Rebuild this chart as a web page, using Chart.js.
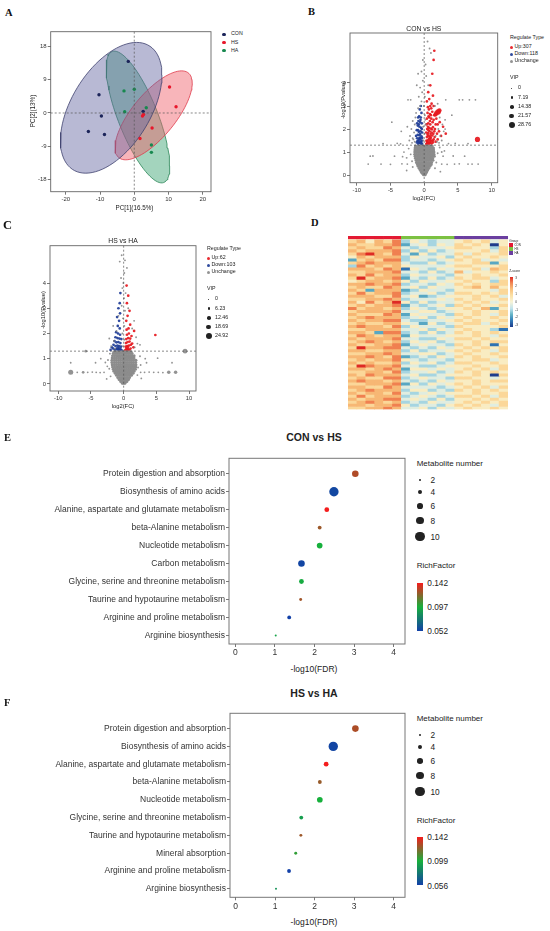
<!DOCTYPE html>
<html>
<head>
<meta charset="utf-8">
<script src="https://cdn.jsdelivr.net/npm/chart.js@4.4.1/dist/chart.umd.min.js"></script>
<style>
body { margin: 0; width: 550px; height: 931px; position: relative; background: #fff; overflow: hidden;
       font-family: "Liberation Sans", Arial, sans-serif; }
canvas { position: absolute; }
.t { position: absolute; white-space: nowrap; color: #222; line-height: 1; }
.lab { font-family: "Liberation Serif", "Times New Roman", serif; font-weight: bold; color: #111; }
.dot { position: absolute; border-radius: 50%; }
.box { position: absolute; }
</style>
</head>
<body>
<script>
// ---------- A: PCA ----------
var conPC = [[-1.75, 13.9], [-10.3, 4.9], [-9.6, -0.8], [-13.4, -5.0], [-8.7, -5.8], [2.6, 0.45]];
var hsPC = [[10.3, 7.0], [12.2, 1.7], [2.4, -0.8], [5.2, -4.05], [1.66, -6.85], [2.7, -0.4]];
var haPC = [[-3.0, 5.95], [0, 6.4], [-2.8, 0.35], [3.5, 1.4], [5.0, -8.6], [5.0, -10.6]];
// confidence ellipses: centre x, centre y, sxx, sxy, syy
var conEllipse = [-6.74, 1.40, 219.6, 131.0, 310.2];
var hsEllipse = [5.65, -0.63, 127.1, 97.8, 143.6];
var haEllipse = [1.08, -1.08, 86.1, -122.6, 315.0];
var pcaXTicks = [-20, -10, 0, 10, 20];
var pcaYTicks = [-18, -9, 0, 9, 18];

// ---------- B: volcano CON vs HS ----------
var grayCoreB = [
  [0.02, [-0.1, 0.05, 0.15]],
  [0.08, [-0.3, -0.15, 0, 0.12, 0.25]],
  [0.15, [-0.45, -0.3, -0.1, 0.05, 0.2, 0.38]],
  [0.22, [-0.6, -0.4, -0.2, 0, 0.18, 0.35, 0.52]],
  [0.3, [-0.75, -0.55, -0.35, -0.12, 0.08, 0.28, 0.46, 0.68]],
  [0.38, [-0.9, -0.65, -0.42, -0.2, 0, 0.22, 0.43, 0.62, 0.85]],
  [0.46, [-1.0, -0.78, -0.5, -0.28, -0.05, 0.15, 0.38, 0.6, 0.82, 1.05]],
  [0.55, [-1.15, -0.9, -0.62, -0.36, -0.1, 0.12, 0.35, 0.58, 0.85, 1.1]],
  [0.64, [-1.2, -0.95, -0.7, -0.45, -0.2, 0.05, 0.3, 0.55, 0.8, 1.05, 1.3]],
  [0.73, [-1.3, -1.0, -0.75, -0.5, -0.25, 0, 0.25, 0.5, 0.75, 1.0, 1.25]],
  [0.82, [-1.35, -1.05, -0.8, -0.52, -0.28, -0.02, 0.22, 0.48, 0.72, 0.98, 1.25, 1.5]],
  [0.91, [-1.4, -1.1, -0.82, -0.55, -0.3, -0.05, 0.2, 0.45, 0.7, 0.95, 1.2, 1.45]],
  [1.0, [-1.4, -1.12, -0.85, -0.58, -0.32, -0.08, 0.18, 0.42, 0.68, 0.92, 1.18, 1.45]],
  [1.09, [-1.38, -1.1, -0.85, -0.6, -0.35, -0.1, 0.15, 0.4, 0.65, 0.9, 1.15, 1.4]],
  [1.18, [-1.35, -1.08, -0.82, -0.58, -0.32, -0.08, 0.15, 0.4, 0.65, 0.9, 1.15, 1.38]],
  [1.26, [-1.3, -1.05, -0.8, -0.55, -0.3, -0.05, 0.2, 0.42, 0.68, 0.95, 1.2]]
];
var grayHighB = [[-1.8, 1.4], [-1.6, 1.55], [-2.1, 1.7], [-1.5, 1.85], [-1.9, 2.0], [-1.4, 2.2], [-1.7, 2.35], [-1.3, 2.5],
  [-1.2, 2.7], [-0.9, 2.9], [-0.6, 3.0], [-0.4, 3.2], [-0.8, 3.4], [-0.3, 3.6], [-0.6, 3.8], [-1.1, 3.9], [-0.2, 4.1],
  [-0.4, 4.5], [-0.9, 4.4], [2.2, 1.4], [2.6, 1.5], [2.4, 1.7], [2.9, 1.9], [2.1, 2.0], [2.7, 2.2], [3.1, 2.4], [2.3, 2.5],
  [1.6, 3.0], [2.0, 3.1], [0.2, 2.2], [0.1, 2.6], [-0.05, 3.0], [0.1, 3.4], [0.6, 3.9], [0.3, 4.3], [0.2, 4.8], [0.8, 5.5],
  [0.5, 5.8], [1.0, 5.3], [-0.2, 5.0], [-1.4, 1.45], [-1.7, 1.6], [1.9, 1.45], [1.7, 1.7], [-0.1, 1.5], [0.05, 1.8],
  [-0.15, 2.1], [0.15, 2.4], [-2.5, 2.1], [-2.2, 1.5], [-1.8, 0.6], [-2.0, 0.9], [-2.3, 1.15], [1.8, 0.55], [2.0, 0.95],
  [2.3, 1.2], [-1.7, 0.35], [1.6, 0.3], [-2.6, 0.75], [2.6, 1.0]];
var grayOutB = [[-8.3, 0.48], [-6.4, 0.48], [-5.0, 0.47], [-3.3, 0.49], [-2.5, 0.48], [2.6, 0.48], [3.4, 0.47], [4.5, 0.48],
  [5.2, 0.49], [6.5, 0.48], [7.1, 0.48], [8.0, 0.48], [-8.0, 0.82], [-7.6, 0.83], [-4.4, 0.82], [-3.2, 0.8], [2.8, 0.82],
  [4.3, 0.83], [6.0, 0.82], [-2.4, 3.27], [-2.0, 3.27], [3.2, 3.27], [5.2, 3.27], [5.7, 3.27], [6.7, 3.27], [7.6, 3.27],
  [-6.1, 1.37], [-4.0, 1.38], [-3.5, 1.36], [3.6, 1.37], [4.6, 1.38], [6.5, 1.37], [-3.0, 1.0], [3.0, 1.05], [-3.4, 1.9],
  [3.1, 2.0], [-2.6, 0.2], [2.4, 0.15], [-4.8, 2.3], [4.1, 2.6]];
var redB = [[0.3, 1.35], [0.5, 1.38], [0.7, 1.36], [0.9, 1.4], [1.1, 1.37], [1.3, 1.42], [0.35, 1.5], [0.6, 1.52], [0.85, 1.55],
  [1.05, 1.5], [1.4, 1.55], [1.7, 1.45], [0.4, 1.65], [0.65, 1.7], [0.9, 1.68], [1.2, 1.72], [1.55, 1.65], [2.0, 1.55],
  [0.3, 1.85], [0.55, 1.82], [0.8, 1.9], [1.1, 1.85], [1.5, 1.9], [1.9, 1.8], [0.45, 2.0], [0.7, 2.05], [1.0, 2.02],
  [1.3, 2.08], [0.35, 2.2], [0.6, 2.25], [0.9, 2.2], [1.25, 2.3], [1.7, 2.2], [0.4, 2.45], [0.75, 2.5], [1.05, 2.45],
  [0.5, 2.7], [0.85, 2.65], [1.2, 2.75], [0.55, 2.95], [0.9, 3.0], [0.4, 3.2], [0.75, 3.3], [1.1, 3.1], [1.3, 3.45],
  [0.6, 3.6], [0.9, 3.9], [1.2, 4.4], [1.4, 5.0], [1.5, 5.4], [2.2, 1.9], [2.5, 1.7], [2.8, 2.1], [3.2, 1.8],
  [0.4, 1.45], [0.75, 1.6], [1.0, 1.62], [1.25, 1.5], [0.5, 1.75], [0.95, 1.78], [1.35, 1.8], [0.65, 1.95], [1.15, 1.98],
  [1.6, 2.0], [0.55, 2.1], [0.85, 2.35], [1.4, 2.4], [0.65, 2.55], [1.0, 2.6], [1.5, 2.6], [0.7, 2.85], [1.05, 2.9],
  [1.4, 3.0], [2.3, 2.3], [1.8, 2.45], [2.0, 2.2]];
var blueB = [[-0.3, 1.35], [-0.5, 1.37], [-0.7, 1.4], [-0.9, 1.36], [-1.1, 1.42], [-0.35, 1.5], [-0.6, 1.55], [-0.85, 1.52],
  [-1.05, 1.6], [-0.4, 1.68], [-0.7, 1.72], [-0.95, 1.75], [-0.3, 1.85], [-0.55, 1.9], [-0.8, 1.88], [-1.1, 1.95],
  [-0.45, 2.05], [-0.7, 2.1], [-0.95, 2.15], [-0.35, 2.25], [-0.6, 2.3], [-0.85, 2.35], [-0.5, 2.5], [-0.75, 2.55],
  [-0.4, 2.7], [-0.65, 2.85], [-0.5, 3.0], [-0.45, 1.45], [-0.75, 1.6], [-1.0, 1.48], [-0.6, 1.78], [-0.9, 1.95],
  [-0.35, 2.0], [-1.05, 2.25], [-0.8, 2.2], [-0.55, 2.4], [-0.9, 2.5], [-1.2, 1.7], [-0.3, 1.62]];
// [log2FC, -log10 P, VIP]
var bigRedB = [[1.8, 2.68, 22], [2.05, 2.74, 26], [2.25, 2.8, 20], [1.65, 2.62, 16], [7.9, 1.55, 24], [0.55, 1.4, 14], [0.85, 1.45, 14]];
var bigBlueB = [[-0.5, 1.4, 14], [-0.8, 1.45, 12], [-0.6, 1.6, 10]];
var vipB = [0, 7.19, 14.38, 21.57, 28.76];

// ---------- C: volcano HS vs HA ----------
var grayCoreC = [
  [0.03, [-0.2, 0, 0.2]],
  [0.1, [-0.45, -0.2, 0.05, 0.3, 0.5]],
  [0.18, [-0.7, -0.45, -0.2, 0.05, 0.3, 0.55, 0.75]],
  [0.26, [-0.9, -0.6, -0.35, -0.1, 0.15, 0.4, 0.65, 0.9]],
  [0.34, [-1.1, -0.8, -0.5, -0.25, 0, 0.25, 0.5, 0.75, 1.0, 1.2]],
  [0.42, [-1.3, -1.0, -0.7, -0.42, -0.15, 0.1, 0.38, 0.65, 0.92, 1.2, 1.45]],
  [0.5, [-1.5, -1.2, -0.9, -0.6, -0.32, -0.05, 0.22, 0.5, 0.78, 1.05, 1.32, 1.6]],
  [0.58, [-1.6, -1.3, -1.0, -0.7, -0.4, -0.12, 0.15, 0.42, 0.7, 0.98, 1.25, 1.55, 1.8]],
  [0.67, [-1.7, -1.38, -1.05, -0.75, -0.45, -0.15, 0.12, 0.4, 0.68, 0.95, 1.25, 1.55, 1.85]],
  [0.76, [-1.75, -1.42, -1.1, -0.78, -0.48, -0.18, 0.1, 0.38, 0.66, 0.95, 1.25, 1.55, 1.88]],
  [0.85, [-1.8, -1.45, -1.12, -0.8, -0.5, -0.2, 0.08, 0.36, 0.64, 0.92, 1.22, 1.52, 1.85]],
  [0.94, [-1.8, -1.45, -1.12, -0.8, -0.5, -0.2, 0.1, 0.38, 0.66, 0.95, 1.25, 1.55, 1.88]],
  [1.03, [-1.75, -1.42, -1.1, -0.78, -0.48, -0.18, 0.12, 0.4, 0.68, 0.98, 1.28, 1.58]],
  [1.12, [-1.7, -1.38, -1.05, -0.75, -0.45, -0.15, 0.14, 0.42, 0.7, 1.0, 1.3, 1.6]],
  [1.21, [-1.6, -1.3, -1.0, -0.7, -0.4, -0.1, 0.18, 0.45, 0.72, 1.0, 1.3]],
  [1.28, [-1.5, -1.2, -0.9, -0.6, -0.3, 0, 0.28, 0.55, 0.85, 1.15]]
];
var grayHighC = [[-1.3, 1.4], [-1.9, 1.5], [-1.5, 1.7], [-2.2, 1.8], [1.7, 1.45], [2.1, 1.6], [1.9, 1.85], [2.5, 1.55],
  [-1.1, 2.1], [-0.2, 2.0], [0.1, 2.3], [-0.1, 2.6], [0.2, 2.9], [-0.3, 3.1], [0.05, 3.4], [-0.2, 3.8], [0.3, 3.6],
  [-0.4, 4.2], [0.1, 4.4], [-0.6, 4.85], [0.2, 4.9], [-0.05, 4.0], [0.7, 3.0], [-0.8, 2.7], [1.3, 2.2], [1.6, 2.5],
  [-1.6, 2.3], [0.5, 4.6], [-0.3, 5.1], [-0.1, 1.5], [0.1, 1.75], [-2.2, 0.6], [-2.4, 0.95], [2.2, 0.65], [2.5, 1.1],
  [-2.1, 1.2], [2.1, 0.35], [-2.0, 0.3]];
var grayOutC = [[-7.1, 0.46], [-5.5, 0.46], [-4.8, 0.47], [-4.2, 0.46], [-3.6, 0.45], [-3.0, 0.46], [2.6, 0.46], [3.2, 0.46],
  [3.9, 0.47], [4.6, 0.46], [5.3, 0.46], [6.0, 0.45], [-8.1, 0.84], [-4.3, 0.84], [-2.8, 0.85], [3.5, 0.84], [7.4, 0.84],
  [-3.5, 1.0], [3.3, 1.0], [5.2, 1.02], [-2.6, 0.2], [2.7, 0.22], [-2.5, 0.7], [2.6, 0.75]];
var bigGrayC = [[-8.1, 0.46, 20], [9.4, 1.3, 18], [6.9, 0.46, 12], [7.95, 0.46, 12], [-5.8, 1.3, 8], [-6.2, 0.46, 8]];
var redC = [[0.25, 1.33], [0.45, 1.35], [0.65, 1.38], [0.85, 1.34], [1.05, 1.4], [0.3, 1.48], [0.55, 1.5], [0.8, 1.52],
  [1.1, 1.55], [0.35, 1.62], [0.6, 1.66], [0.9, 1.68], [1.3, 1.6], [0.4, 1.78], [0.7, 1.82], [1.0, 1.8], [0.5, 1.95],
  [0.8, 2.0], [1.2, 1.9], [0.45, 2.15], [0.75, 2.2], [1.0, 2.35], [0.4, 2.5], [0.6, 2.7], [0.9, 2.9], [0.5, 3.2],
  [0.45, 3.9], [0.7, 3.5], [1.5, 1.45], [4.85, 1.94], [1.6, 2.1]];
var blueC = [[-0.3, 1.33], [-0.55, 1.35], [-0.8, 1.34], [-1.05, 1.38], [-1.3, 1.35], [-1.6, 1.4], [-0.4, 1.48], [-0.7, 1.5],
  [-0.95, 1.52], [-1.25, 1.5], [-1.55, 1.55], [-0.5, 1.62], [-0.8, 1.66], [-1.1, 1.65], [-1.4, 1.7], [-0.35, 1.78],
  [-0.65, 1.8], [-0.95, 1.82], [-1.25, 1.85], [-0.55, 1.95], [-0.85, 2.0], [-1.15, 2.05], [-0.6, 2.2], [-0.9, 2.3],
  [-0.7, 2.5], [-1.0, 2.65], [-0.55, 2.8], [-0.8, 3.0], [-0.6, 3.2], [-0.5, 3.6], [-1.8, 1.45], [-2.0, 1.35]];
var bigRedC = [[0.45, 1.35, 16], [0.55, 1.45, 12]];
var bigBlueC = [[-0.6, 1.38, 16], [-0.9, 1.42, 12]];
var vipC = [0, 6.23, 12.46, 18.69, 24.92];
var volXTicks = [-10, -5, 0, 5, 10];
var volYTicks = [0, 1, 2, 3, 4];

// ---------- D: heatmap (digit d -> z = (d - 4.5) / 1.5) ----------
var samples = ['CON1', 'CON2', 'CON3', 'CON4', 'CON5', 'CON6', 'HS1', 'HS2', 'HS3', 'HS4', 'HS5', 'HS6',
  'HA1', 'HA2', 'HA3', 'HA4', 'HA5', 'HA6'];
var sampleGroup = [0, 0, 0, 0, 0, 0, 1, 1, 1, 1, 1, 1, 2, 2, 2, 2, 2, 2];
var heatRows = [
  '675768354344565645', '766778245354656505', '676687434445665536', '767778353534555646',
  '689768425344646556', '576777354453565565', '267688344345656454', '678777433534556625',
  '386767544445665556', '777687154354556476', '667778443534745565', '768677354443556556',
  '696778243534656645', '567767535445565536', '778778344354656566', '676687453544567575',
  '762777235443555546', '686778344534665656', '777668452345556564', '667787344454656556',
  '758679535344565645', '676778243453656556', '867767354345565725', '677778445534556556',
  '766687254443656546', '678777345354565565', '767788433445656556', '676677542534566465',
  '787768354443655556', '667777445354565531', '776288343534656565', '687677254445556546',
  '767778443354665655', '678767354534556566', '766778245443656515', '697788434354565656',
  '776677353445656546', '667787445534565565', '778768234354656556', '676778543443556645',
  '767667354534665565', '698778443345556556', '776787255454565646', '667768344534656565',
  '768777453345556506', '676688345443665545', '787767434354556566', '667778253545656555',
  '776687444434565646', '678777355343656565', '767768434545556556', '686777345434665646',
  '767788454353556565', '678767343544565656', '776778534435656546', '667787445354565565'
];
var zTicks = [3, 2, 1, 0, -1, -2, -3];

// ---------- E / F: KEGG enrichment ----------
var pathE = ['Protein digestion and absorption', 'Biosynthesis of amino acids', 'Alanine, aspartate and glutamate metabolism',
  'beta-Alanine metabolism', 'Nucleotide metabolism', 'Carbon metabolism', 'Glycine, serine and threonine metabolism',
  'Taurine and hypotaurine metabolism', 'Arginine and proline metabolism', 'Arginine biosynthesis'];
var fdrE = [3.03, 2.49, 2.31, 2.13, 2.13, 1.67, 1.67, 1.65, 1.36, 1.02];
var numE = [7, 10, 5, 4, 6, 7, 5, 3, 4, 2];
var richE = [0.128, 0.055, 0.142, 0.124, 0.097, 0.054, 0.095, 0.125, 0.052, 0.092];
var richRangeE = [0.052, 0.097, 0.142];

var pathF = ['Protein digestion and absorption', 'Biosynthesis of amino acids', 'Alanine, aspartate and glutamate metabolism',
  'beta-Alanine metabolism', 'Nucleotide metabolism', 'Glycine, serine and threonine metabolism',
  'Taurine and hypotaurine metabolism', 'Mineral absorption', 'Arginine and proline metabolism', 'Arginine biosynthesis'];
var fdrF = [3.03, 2.47, 2.29, 2.13, 2.13, 1.66, 1.65, 1.52, 1.35, 1.02];
var numF = [7, 10, 5, 4, 6, 4, 3, 3, 4, 2];
var richF = [0.128, 0.058, 0.142, 0.124, 0.099, 0.092, 0.125, 0.104, 0.056, 0.088];
var richRangeF = [0.056, 0.099, 0.142];
var metaNums = [2, 4, 6, 8, 10];
var fdrTicks = [0, 1, 2, 3, 4];

// ---------------------------------------------------------------
var FONT = "'Liberation Sans', Arial, sans-serif";
Chart.defaults.font.family = FONT;
Chart.defaults.animation = false;
Chart.defaults.plugins.legend.display = false;
Chart.defaults.plugins.tooltip.enabled = false;

var GRAY = 'rgba(128,128,128,0.85)', CORE = '#8c8c8c', RED = 'rgba(230,24,30,0.92)', BLUE = 'rgba(30,60,150,0.92)';

function txt(s, x, y, size, opt) {
    opt = opt || {};
    var d = document.createElement('div');
    d.className = 't' + (opt.cls ? ' ' + opt.cls : '');
    d.textContent = s;
    d.style.left = x + 'px';
    d.style.top = y + 'px';
    d.style.fontSize = size + 'px';
    if (opt.bold) d.style.fontWeight = 'bold';
    var ax = opt.align === 'c' ? '-50%' : (opt.align === 'r' ? '-100%' : '0');
    var tr = 'translate(' + ax + ',-50%)';
    if (opt.rot) tr += ' rotate(' + opt.rot + 'deg)';
    d.style.transform = tr;
    document.body.appendChild(d);
}

function dot(x, y, r, color) {
    var d = document.createElement('div');
    d.className = 'dot';
    d.style.left = (x - r) + 'px';
    d.style.top = (y - r) + 'px';
    d.style.width = d.style.height = (2 * r) + 'px';
    d.style.background = color;
    document.body.appendChild(d);
}

function rect(x, y, w, h, bg) {
    var d = document.createElement('div');
    d.className = 'box';
    d.style.left = x + 'px';
    d.style.top = y + 'px';
    d.style.width = w + 'px';
    d.style.height = h + 'px';
    d.style.background = bg;
    document.body.appendChild(d);
}

var framePlugin = {
    id: 'frame',
    afterDraw: function (chart, args, o) {
        var a = chart.chartArea, ctx = chart.ctx;
        ctx.save();
        ctx.strokeStyle = o.color || '#666';
        ctx.lineWidth = o.width || 1;
        ctx.strokeRect(a.left, a.top, a.right - a.left, a.bottom - a.top);
        ctx.restore();
    }
};

var refPlugin = {
    id: 'refs',
    afterDatasetsDraw: function (chart, args, o) {
        var ctx = chart.ctx, a = chart.chartArea, sx = chart.scales.x, sy = chart.scales.y;
        ctx.save();
        ctx.setLineDash([2, 2]);
        ctx.strokeStyle = '#555';
        ctx.lineWidth = 0.7;
        (o.x || []).forEach(function (v) {
            var p = sx.getPixelForValue(v);
            ctx.beginPath(); ctx.moveTo(p, a.top); ctx.lineTo(p, a.bottom); ctx.stroke();
        });
        (o.y || []).forEach(function (v) {
            var p = sy.getPixelForValue(v);
            ctx.beginPath(); ctx.moveTo(a.left, p); ctx.lineTo(a.right, p); ctx.stroke();
        });
        ctx.restore();
    }
};

function linAxis(min, max, ticks, size, fit, isX, cb) {
    return {
        type: 'linear', min: min, max: max,
        afterBuildTicks: function (s) { s.ticks = ticks.map(function (v) { return { value: v }; }); },
        afterFit: function (s) { if (isX) s.height = fit; else s.width = fit; },
        grid: { drawOnChartArea: false, drawTicks: true, tickLength: 3, color: '#555', lineWidth: 0.8 },
        border: { display: false },
        ticks: { font: { size: size }, color: '#333', padding: 1, maxRotation: 0, autoSkip: false,
                 callback: cb || function (v) { return v; } }
    };
}

function makeChart(r, box, config) {
    var c = document.createElement('canvas');
    c.width = r.w; c.height = r.h;
    c.style.left = r.x + 'px'; c.style.top = r.y + 'px';
    c.style.width = r.w + 'px'; c.style.height = r.h + 'px';
    document.body.appendChild(c);
    config.options.responsive = false;
    config.options.layout = { padding: { top: box.t - r.y, right: r.x + r.w - box.r,
        left: config.noAxes ? box.l - r.x : 0, bottom: config.noAxes ? r.y + r.h - box.b : 0 } };
    return new Chart(c.getContext('2d'), config);
}

function pts(arr) { return arr.map(function (p) { return { x: p[0], y: p[1] }; }); }
function rows(arr) {
    var out = [];
    arr.forEach(function (row) { row[1].forEach(function (x) { out.push({ x: x, y: row[0] }); }); });
    return out;
}
function ellipse(e) {
    var l11 = Math.sqrt(e[2]), l21 = e[3] / l11, l22 = Math.sqrt(e[4] - l21 * l21), out = [];
    for (var i = 0; i <= 90; i++) {
        var t = 2 * Math.PI * i / 90;
        out.push({ x: e[0] + l11 * Math.cos(t), y: e[1] + l21 * Math.cos(t) + l22 * Math.sin(t) });
    }
    return out;
}

// ---------- A ----------
(function () {
    var r = { x: 20, y: 25, w: 200, h: 180 }, box = { l: 50.7, t: 31.7, r: 211, b: 191.7 };
    function ell(e, fill, line) {
        return { type: 'line', data: ellipse(e), backgroundColor: fill, borderColor: line, borderWidth: 0.8,
                 pointRadius: 0, fill: 'shape', tension: 0, order: 1 };
    }
    function grp(d, c) {
        return { type: 'scatter', data: pts(d), pointRadius: 1.7, pointBackgroundColor: c, pointBorderWidth: 0, order: 0 };
    }
    makeChart(r, box, {
        type: 'scatter',
        data: { datasets: [
            grp(conPC, '#1b2459'), grp(hsPC, '#e8172b'), grp(haPC, '#17884f'),
            ell(conEllipse, 'rgba(98,100,160,0.45)', '#3f416f'),
            ell(hsEllipse, 'rgba(240,90,102,0.45)', '#de3a4a'),
            ell(haEllipse, 'rgba(52,160,108,0.45)', '#2b8658')
        ] },
        options: {
            scales: {
                x: linAxis(-24.4, 22.4, pcaXTicks, 6, r.y + r.h - box.b, true),
                y: linAxis(-21.2, 21.9, pcaYTicks, 6, box.l - r.x, false)
            },
            plugins: { refs: { x: [0], y: [0] }, frame: { color: '#666', width: 0.9 } }
        },
        plugins: [refPlugin, framePlugin]
    });
    txt('A', 5, 13, 10.5, { cls: 'lab' });
    [['CON', '#1b2459'], ['HS', '#e8172b'], ['HA', '#17884f']].forEach(function (g, i) {
        dot(224, 34.3 + i * 8.2, 1.8, g[1]);
        txt(g[0], 231, 34.3 + i * 8.2, 5.3);
    });
    txt('PC[1](16.5%)', 134.5, 208, 6.3, { align: 'c' });
    txt('PC[2](13%)', 32.5, 111, 6.3, { align: 'c', rot: -90 });
})();

// ---------- volcano ----------
function volcano(r, box, d, range, title, legend) {
    var vipMax = legend.vip[legend.vip.length - 1];
    function vr(v) { return 0.6 + v / vipMax * 2.4; }
    function sc(data, color, rad) {
        return { data: data, pointRadius: rad, pointBackgroundColor: color, pointBorderWidth: 0 };
    }
    function big(arr, color) {
        return { data: pts(arr), pointRadius: arr.map(function (p) { return vr(p[2]); }),
                 pointBackgroundColor: color, pointBorderWidth: 0 };
    }
    var sets = [sc(rows(d.core), CORE, 1.5), sc(pts(d.high), GRAY, 0.95), sc(pts(d.out), GRAY, 0.9)];
    if (d.bigGray) sets.push(big(d.bigGray, GRAY));
    sets.push(sc(pts(d.red), RED, 1.35), sc(pts(d.blue), BLUE, 1.35), big(d.bigRed, RED), big(d.bigBlue, BLUE));
    makeChart(r, box, {
        type: 'scatter',
        data: { datasets: sets },
        options: {
            scales: {
                x: linAxis(range[0], range[1], volXTicks, 5.8, r.y + r.h - box.b, true),
                y: linAxis(range[2], range[3], volYTicks, 5.8, box.l - r.x, false)
            },
            plugins: { refs: { x: [0], y: [1.3] }, frame: { color: '#666', width: 0.9 } }
        },
        plugins: [refPlugin, framePlugin]
    });
    var mid = (box.l + box.r) / 2;
    txt(title, mid, box.t - 4.5, 6.8, { align: 'c' });
    txt('log2(FC)', mid, box.b + 16, 5.8, { align: 'c' });
    txt('-log10(Pvalue)', box.l - 6, (box.t + box.b) / 2 - 8, 5.8, { align: 'c', rot: -90 });
    var L = legend;
    txt('Regulate Type', L.x, L.y, 5.3);
    [[L.up, RED], [L.down, BLUE], ['Unchange', GRAY]].forEach(function (it, i) {
        dot(L.x + 1.6, L.y + 9.5 + i * 7.1, 1.6, it[1]);
        txt(it[0], L.x + 4.5, L.y + 9.5 + i * 7.1, 5.3);
    });
    txt('VIP', L.x, L.y + 40, 5.3);
    L.vip.forEach(function (v, i) {
        dot(L.x + 1.8, L.y + 50.5 + i * 9.3, vr(v), '#222');
        txt(String(v), L.x + 8, L.y + 50.5 + i * 9.3, 5.3);
    });
}

volcano({ x: 325, y: 25, w: 180, h: 170 }, { l: 350, t: 33, r: 497.7, b: 182.7 },
    { core: grayCoreB, high: grayHighB, out: grayOutB, red: redB, blue: blueB, bigRed: bigRedB, bigBlue: bigBlueB },
    [-11, 10.9, -0.33, 6.17], 'CON vs HS', { x: 510, y: 37.7, up: 'Up:307', down: 'Down:118', vip: vipB });
txt('B', 308, 12, 10.5, { cls: 'lab' });

volcano({ x: 25, y: 238, w: 180, h: 165 }, { l: 50, t: 245.7, r: 196, b: 391 },
    { core: grayCoreC, high: grayHighC, out: grayOutC, bigGray: bigGrayC, red: redC, blue: blueC, bigRed: bigRedC, bigBlue: bigBlueC },
    [-11.27, 11.07, -0.28, 5.48], 'HS vs HA', { x: 207, y: 248.7, up: 'Up:62', down: 'Down:103', vip: vipC });
txt('C', 3, 224.5, 12.5, { cls: 'lab' });

// ---------- D ----------
var zStops = [[-3, [30, 60, 140]], [-2.2, [50, 125, 185]], [-1.5, [100, 180, 198]], [-0.8, [192, 226, 236]],
    [0, [247, 244, 216]], [0.8, [252, 224, 164]], [1.6, [248, 188, 120]], [2.3, [241, 132, 82]], [3, [222, 42, 36]]];
function zColor(z) {
    for (var i = 1; i < zStops.length; i++) {
        if (z <= zStops[i][0]) {
            var a = zStops[i - 1], b = zStops[i], f = (z - a[0]) / (b[0] - a[0]);
            return 'rgb(' + a[1].map(function (c, k) { return Math.round(c + (b[1][k] - c) * f); }).join(',') + ')';
        }
    }
    return 'rgb(' + zStops[zStops.length - 1][1].join(',') + ')';
}
(function () {
    var r = { x: 340, y: 228, w: 175, h: 185 }, box = { l: 348, t: 236, r: 508, b: 409.5 };
    var N = heatRows.length, groupColors = ['#e31a33', '#7cc142', '#6b3fa0'];
    var sets = heatRows.map(function (row, i) {
        return {
            data: samples.map(function () { return [N - 1 - i, N - i]; }),
            backgroundColor: samples.map(function (s, j) { return zColor((Number(row[j]) - 4.5) / 1.5); }),
            borderWidth: 0, grouped: false, barPercentage: 1, categoryPercentage: 1
        };
    });
    sets.push({
        data: samples.map(function () { return [N + 0.3, N + 1.3]; }),
        backgroundColor: sampleGroup.map(function (g) { return groupColors[g]; }),
        borderWidth: 0, grouped: false, barPercentage: 1, categoryPercentage: 1
    });
    makeChart(r, box, {
        type: 'bar',
        noAxes: true,
        data: { labels: samples, datasets: sets },
        options: { scales: { x: { display: false }, y: { display: false, min: 0, max: N + 1.3 } } }
    });
    txt('D', 311, 223, 10.5, { cls: 'lab' });
    txt('Group', 509.3, 241.7, 3.2);
    ['CON', 'HS', 'HA'].forEach(function (g, i) {
        rect(509.3, 243.3 + i * 4, 4, 3.9, groupColors[i]);
        txt(g, 514.5, 245.3 + i * 4, 2.8);
    });
    txt('Z-score', 509.3, 272.3, 3.2);
    var grad = zStops.slice().reverse().map(function (s) {
        return 'rgb(' + s[1].join(',') + ') ' + ((3 - s[0]) / 6 * 100).toFixed(1) + '%';
    }).join(',');
    rect(510, 276.7, 3.4, 50.6, 'linear-gradient(to bottom,' + grad + ')');
    zTicks.forEach(function (z, i) { txt(String(z), 515.3, 277.7 + i * 7.95, 3); });
})();

// ---------- E / F ----------
var richColors = [[18, 64, 168], [23, 176, 60], [244, 29, 29]];
function richColor(v, rg) {
    var f = (v - rg[0]) / (rg[2] - rg[0]);
    f = Math.max(0, Math.min(1, f));
    var a, b, g;
    if (f < 0.5) { a = richColors[0]; b = richColors[1]; g = f / 0.5; }
    else { a = richColors[1]; b = richColors[2]; g = (f - 0.5) / 0.5; }
    return 'rgb(' + a.map(function (c, k) { return Math.round(c + (b[k] - c) * g); }).join(',') + ')';
}
function numRadius(n) { return 1 + (n - 2) * 0.46; }

function enrich(r, box, path, fdr, num, rich, rg, xRange, title, leg) {
    makeChart(r, box, {
        type: 'scatter',
        data: { datasets: [{
            data: fdr.map(function (v, i) { return { x: v, y: 10 - i }; }),
            pointRadius: num.map(numRadius),
            pointBackgroundColor: rich.map(function (v) { return richColor(v, rg); }),
            pointBorderWidth: 0
        }] },
        options: {
            scales: {
                x: linAxis(xRange[0], xRange[1], fdrTicks, 8.5, r.y + r.h - box.b, true),
                y: linAxis(0.52, 10.86, [1, 2, 3, 4, 5, 6, 7, 8, 9, 10], 8.5, box.l - r.x, false,
                    function (v) { return path[10 - v]; })
            },
            plugins: { frame: { color: '#777', width: 1 } }
        },
        plugins: [framePlugin]
    });
    txt(title, 314, leg.title, 10.5, { align: 'c', bold: true });
    txt('-log10(FDR)', 314, box.b + 24.8, 8.5, { align: 'c' });
    txt('Metabolite number', 416.7, leg.num, 8);
    metaNums.forEach(function (n, i) {
        dot(420, leg.dots[i], numRadius(n), '#222');
        txt(String(n), 430.5, leg.dots[i], 8.3);
    });
    txt('RichFactor', 416.7, leg.rich, 8);
    rect(417.3, leg.bar[0], 5.4, leg.bar[1] - leg.bar[0],
        'linear-gradient(to top,' + richColor(rg[0], rg) + ',' + richColor(rg[1], rg) + ',' + richColor(rg[2], rg) + ')');
    [rg[2], rg[1], rg[0]].forEach(function (v, i) {
        txt(v.toFixed(3), 427.3, leg.bar[0] + 0.6 + i * (leg.bar[1] - leg.bar[0]) / 2, 8.3);
    });
}

enrich({ x: 20, y: 450, w: 395, h: 210 }, { l: 229, t: 458.3, r: 405, b: 644 }, pathE, fdrE, numE, richE, richRangeE,
    [-0.16, 4.285], 'CON vs HS',
    { title: 437.3, num: 464, dots: [480, 492.3, 506.3, 520.7, 536.7], rich: 566, bar: [582.7, 630.7] });
txt('E', 4, 437.5, 10.5, { cls: 'lab' });

enrich({ x: 20, y: 705, w: 395, h: 210 }, { l: 230, t: 713.3, r: 405, b: 897.3 }, pathF, fdrF, numF, richF, richRangeF,
    [-0.144, 4.286], 'HS vs HA',
    { title: 693, num: 719.3, dots: [735, 747.3, 760.7, 775.7, 791.7], rich: 821, bar: [836.7, 885] });
txt('F', 4, 703.3, 10.5, { cls: 'lab' });
</script>
</body>
</html>
